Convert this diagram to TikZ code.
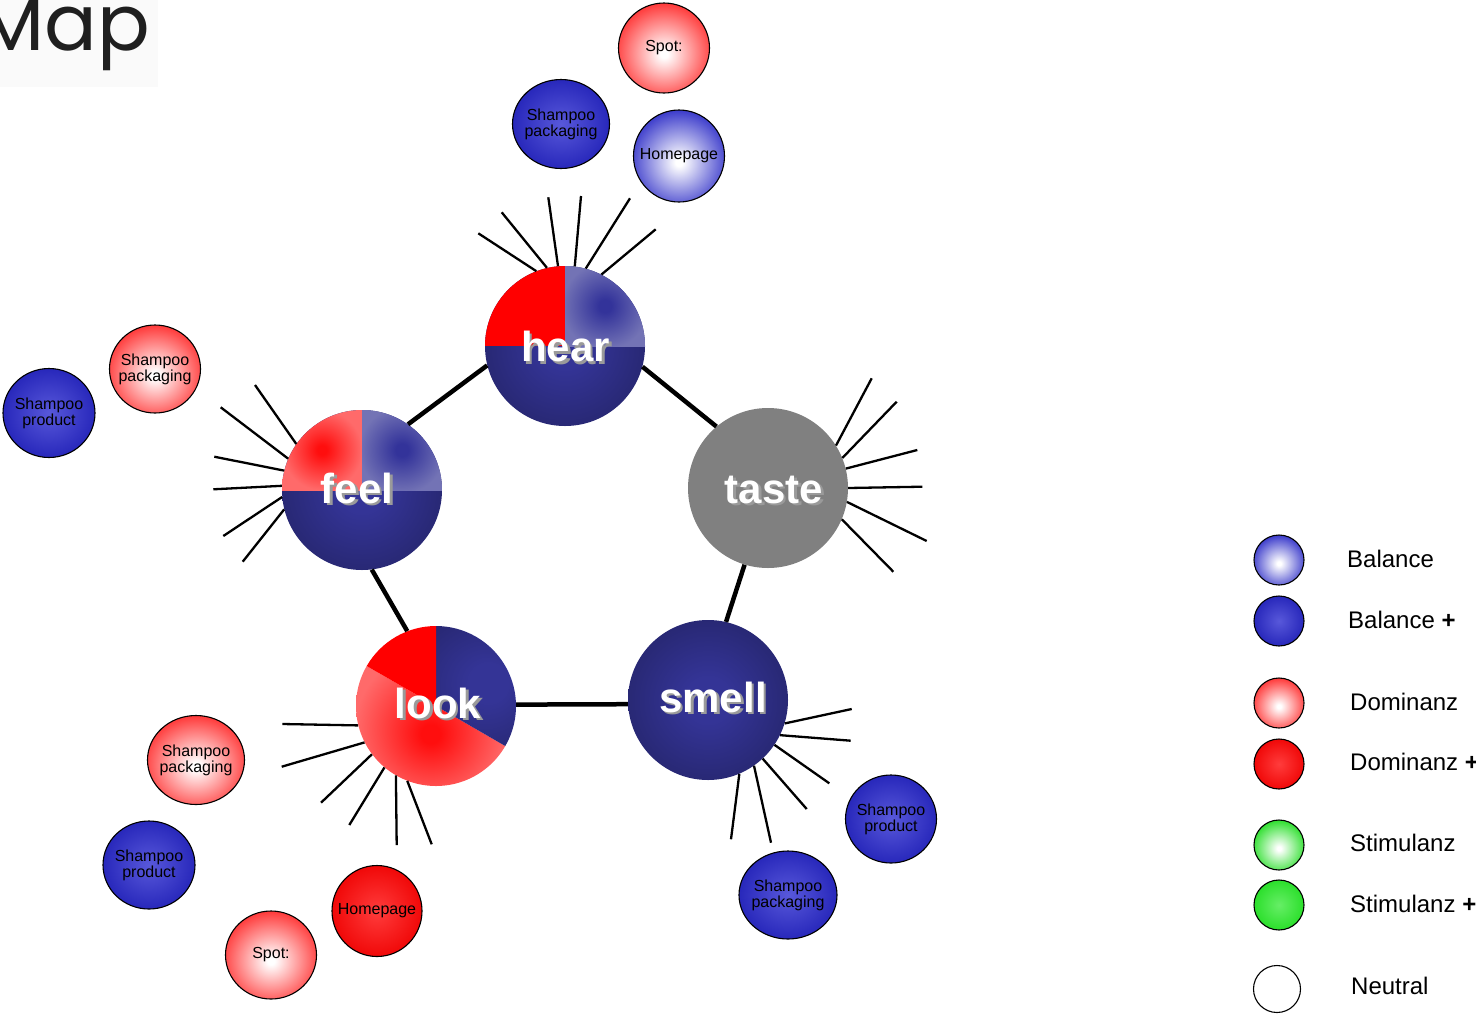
\documentclass[tikz,border=0pt]{standalone}
\usepackage{fontspec}
\setmainfont{Liberation Sans}
\newfontfamily\mapfont{Poppins}
\usetikzlibrary{shapes.geometric}

\definecolor{navyC}{HTML}{343496}
\definecolor{navyE}{HTML}{232366}
\definecolor{qBlueC}{HTML}{33339A}
\definecolor{qBlueE}{HTML}{7373B5}
\definecolor{lredC}{HTML}{FF0E0E}
\definecolor{lredE}{HTML}{FF6A6A}
\definecolor{balE}{HTML}{3030C8}
\definecolor{balpC}{HTML}{5858DA}
\definecolor{balpE}{HTML}{2020B6}
\definecolor{domE}{HTML}{FF2E2E}
\definecolor{dompC}{HTML}{FF3C3C}
\definecolor{dompE}{HTML}{EE0000}
\definecolor{stimE}{HTML}{22DD22}
\definecolor{stimpC}{HTML}{66EE66}
\definecolor{stimpE}{HTML}{22DD22}
\definecolor{tasteC}{HTML}{808080}
\definecolor{mapbg}{HTML}{FAFAFA}
\definecolor{shadowC}{HTML}{9A9A9A}

\pgfdeclareradialshading{shNavy}{\pgfpoint{0bp}{0bp}}{color(0bp)=(navyC); color(7bp)=(navyC); color(33bp)=(navyE); color(100bp)=(navyE)}
\pgfdeclareradialshading{shLookBlue}{\pgfpoint{17.5bp}{7.7bp}}{color(0bp)=(navyC); color(6bp)=(navyC); color(30bp)=(navyE); color(100bp)=(navyE)}
\pgfdeclareradialshading{shQuad}{\pgfpoint{0bp}{0bp}}{color(0bp)=(qBlueC); color(4bp)=(qBlueC); color(27bp)=(qBlueE); color(100bp)=(qBlueE)}
\pgfdeclareradialshading{shQuadRed}{\pgfpoint{0bp}{0bp}}{color(0bp)=(lredC); color(3bp)=(lredC); color(25bp)=(lredE); color(100bp)=(lredE)}
\pgfdeclareradialshading{shLookRed}{\pgfpoint{-1.75bp}{-9bp}}{color(0bp)=(lredC); color(3bp)=(lredC); color(24bp)=(lredE); color(100bp)=(lredE)}
\pgfdeclareradialshading{shBal}{\pgfpoint{0bp}{-3.5bp}}{color(0bp)=(white); color(2bp)=(white); color(29bp)=(balE); color(100bp)=(balE)}
\pgfdeclareradialshading{shBalP}{\pgfpoint{0bp}{0bp}}{color(0bp)=(balpC); color(29bp)=(balpE); color(100bp)=(balpE)}
\pgfdeclareradialshading{shDom}{\pgfpoint{0bp}{-3.5bp}}{color(0bp)=(white); color(2bp)=(white); color(29bp)=(domE); color(100bp)=(domE)}
\pgfdeclareradialshading{shDomP}{\pgfpoint{0bp}{0bp}}{color(0bp)=(dompC); color(29bp)=(dompE); color(100bp)=(dompE)}
\pgfdeclareradialshading{shStim}{\pgfpoint{0bp}{-3.5bp}}{color(0bp)=(white); color(2bp)=(white); color(29bp)=(stimE); color(100bp)=(stimE)}
\pgfdeclareradialshading{shStimP}{\pgfpoint{0bp}{0bp}}{color(0bp)=(stimpC); color(29bp)=(stimpE); color(100bp)=(stimpE)}

\begin{document}
\begin{tikzpicture}[x=1pt,y=-1pt,
  mainball/.style={circle, minimum size=160pt, inner sep=0pt},
  spoke/.style={line width=2.3pt},
  link/.style={line width=4.5pt},
  bub/.style={ellipse, draw=black, line width=1.1pt, inner sep=0pt, shade},
  bal/.style={bub, shading=shBal},
  balp/.style={bub, shading=shBalP},
  dom/.style={bub, shading=shDom},
  domp/.style={bub, shading=shDomP},
  stim/.style={bub, shading=shStim},
  stimp/.style={bub, shading=shStimP},
  btxt/.style={font=\fontsize{16}{14.5}\selectfont, align=center, inner sep=0pt, text=black},
  biglbl/.style={font=\fontsize{42}{42}\selectfont\bfseries, text=white, inner sep=0pt, anchor=base},
  shadowlbl/.style={biglbl, text=shadowC},
  legtxt/.style={font=\fontsize{24}{24}\selectfont, anchor=west, inner sep=0pt}
]
\useasboundingbox (0,0) rectangle (1476,1013);
\clip (0,0) rectangle (1476,1013);
\fill[white] (0,0) rectangle (1476,1013);

% title fragment
\fill[mapbg] (0,0) rectangle (158,87);
\node[font=\mapfont\fontsize{78}{78}\selectfont, anchor=base east, inner sep=0pt, text=black!88] (maptitle) at (150,50) {Map};

% main nodes (shapes)
\node[mainball] (hear) at (565,346) {};
\node[mainball] (feel) at (362,490) {};
\node[mainball] (look) at (436,706) {};
\node[mainball] (smell) at (708,700) {};
\node[mainball] (taste) at (768,488) {};

% hear
\begin{scope}
  \clip (hear.center) circle (80pt);
  \shade[shading=shNavy] (hear.center) circle (80pt);
  \fill[red] (hear.center) rectangle ++(-80pt,80pt);
  \shade[shading=shQuad] (hear.center) rectangle ++(80pt,80pt);
\end{scope}
% feel
\begin{scope}
  \clip (feel.center) circle (80pt);
  \shade[shading=shNavy] (feel.center) circle (80pt);
  \shade[shading=shQuadRed] (feel.center) rectangle ++(-80pt,80pt);
  \shade[shading=shQuad] (feel.center) rectangle ++(80pt,80pt);
\end{scope}
% look
\begin{scope}
  \clip (look.center) -- ++(150:80pt) arc[start angle=150, end angle=330, radius=80pt] -- cycle;
  \shade[shading=shLookRed] (look.center) circle (80pt);
\end{scope}
\begin{scope}
  \clip (look.center) -- ++(-30:80pt) arc[start angle=-30, end angle=90, radius=80pt] -- cycle;
  \shade[shading=shLookBlue] (look.center) circle (80pt);
\end{scope}
\fill[red] (look.center) -- ++(90:80pt) arc[start angle=90, end angle=150, radius=80pt] -- cycle;
% smell
\shade[shading=shNavy] (smell.center) circle (80pt);
% taste
\fill[tasteC] (taste.center) circle (80pt);

% connectors
\draw[link] (hear.194) -- (feel.55);
\draw[link] (hear.345) -- (taste.130);
\draw[link] (feel.277) -- (look.111);
\draw[link] (look.1) -- (smell.183);
\draw[link] (taste.253) -- (smell.77);

% spokes
\draw[spoke] (hear.111) -- (478.3,233.3);
\draw[spoke] (hear.103) -- (501.7,212.3);
\draw[spoke] (hear.95) -- (548.3,197.3);
\draw[spoke] (hear.83) -- (581,196);
\draw[spoke] (hear.75) -- (630,198.3);
\draw[spoke] (hear.63) -- (655.7,229.3);

\draw[spoke] (feel.145) -- (255,385);
\draw[spoke] (feel.157) -- (220.7,407.3);
\draw[spoke] (feel.166) -- (214.3,456.7);
\draw[spoke] (feel.177) -- (213.3,489.3);
\draw[spoke] (feel.185) -- (223.3,536);
\draw[spoke] (feel.194) -- (242.7,561.7);

\draw[spoke] (look.194) -- (282.3,724);
\draw[spoke] (look.207) -- (281.7,766.7);
\draw[spoke] (look.217) -- (321,802.7);
\draw[spoke] (look.230) -- (349.3,825);
\draw[spoke] (look.240) -- (396.7,845);
\draw[spoke] (look.249) -- (431.7,844.3);

\draw[spoke] (smell.343) -- (851.7,709);
\draw[spoke] (smell.334) -- (850.7,740.7);
\draw[spoke] (smell.326) -- (829.3,783.3);
\draw[spoke] (smell.313) -- (806.7,809);
\draw[spoke] (smell.305) -- (771,842.7);
\draw[spoke] (smell.293) -- (731,839.3);

\draw[spoke] (taste.32) -- (871.7,378.3);
\draw[spoke] (taste.22) -- (896.7,401.7);
\draw[spoke] (taste.14) -- (917.3,450);
\draw[spoke] (taste.0) -- (922.3,486.7);
\draw[spoke] (taste.350) -- (926.7,541);
\draw[spoke] (taste.337) -- (893.3,571.7);

% main labels with shadow
\node[shadowlbl] (hearsh) at (568,364) {hear};
\node[biglbl] (hearlbl) at (565.5,361.5) {hear};
\node[shadowlbl] (feelsh) at (359.5,505.5) {feel};
\node[biglbl] (feellbl) at (357,503) {feel};
\node[shadowlbl] (looksh) at (440.5,720.5) {look};
\node[biglbl] (looklbl) at (438,718) {look};
\node[shadowlbl] (smellsh) at (715.5,714.5) {smell};
\node[biglbl] (smelllbl) at (713,712) {smell};
\node[shadowlbl] (tastesh) at (776.5,505.5) {taste};
\node[biglbl] (tastelbl) at (774,503) {taste};

% small bubbles
\node[dom, minimum width=91pt, minimum height=90pt, label={[btxt]center:Spot:}] (spottop) at (664,48) {};
\node[balp, minimum width=97pt, minimum height=89pt, label={[btxt]center:Shampoo\\packaging}] (packtop) at (561,124) {};
\node[bal, minimum width=91pt, minimum height=92pt, label={[btxt]center:Homepage}] (hometop) at (679,156) {};
\node[dom, minimum width=91pt, minimum height=88pt, label={[btxt]center:Shampoo\\packaging}] (packleft) at (155,369) {};
\node[balp, minimum width=92pt, minimum height=89pt, label={[btxt]center:Shampoo\\product}] (prodleft) at (49,413) {};
\node[dom, minimum width=97pt, minimum height=89pt, label={[btxt]center:Shampoo\\packaging}] (packbl) at (196,760) {};
\node[balp, minimum width=92pt, minimum height=88pt, label={[btxt]center:Shampoo\\product}] (prodbl) at (149,865) {};
\node[domp, minimum width=90pt, minimum height=91pt, label={[btxt]center:Homepage}] (homebl) at (377,911) {};
\node[dom, minimum width=91pt, minimum height=88pt, label={[btxt]center:Spot:}] (spotbl) at (271,955) {};
\node[balp, minimum width=91pt, minimum height=88pt, label={[btxt]center:Shampoo\\product}] (prodbr) at (891,819) {};
\node[balp, minimum width=98pt, minimum height=88pt, label={[btxt]center:Shampoo\\packaging}] (packbr) at (788,895) {};

% legend
\node[bal, minimum width=50pt, minimum height=50pt] (lg1) at (1279,560) {};
\node[balp, minimum width=50pt, minimum height=50pt] (lg2) at (1279,621) {};
\node[dom, minimum width=50pt, minimum height=50pt] (lg3) at (1279,703) {};
\node[domp, minimum width=50pt, minimum height=50pt] (lg4) at (1279,764) {};
\node[stim, minimum width=50pt, minimum height=50pt] (lg5) at (1279,845) {};
\node[stimp, minimum width=50pt, minimum height=50pt] (lg6) at (1279,905) {};
\node[ellipse, draw=black, line width=1.1pt, fill=white, inner sep=0pt, minimum width=47pt, minimum height=47pt] (lg7) at (1277,989) {};

\node[legtxt] (lt1) at (1347,559) {Balance};
\node[legtxt] (lt2) at (1348,620) {Balance {\bfseries +}};
\node[legtxt] (lt3) at (1350,702) {Dominanz};
\node[legtxt] (lt4) at (1350,762) {Dominanz {\bfseries +}};
\node[legtxt] (lt5) at (1350,843) {Stimulanz};
\node[legtxt] (lt6) at (1350,904) {Stimulanz {\bfseries +}};
\node[legtxt] (lt7) at (1351,986) {Neutral};
\end{tikzpicture}
\end{document}
